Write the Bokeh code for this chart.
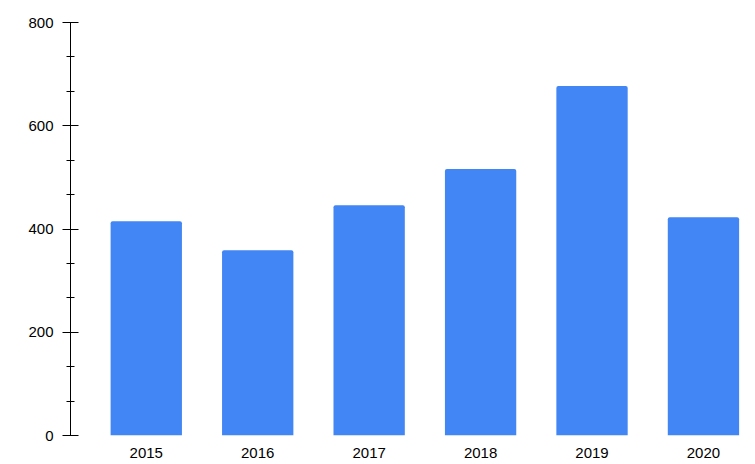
from bokeh.plotting import figure
from bokeh.models import Range1d, SingleIntervalTicker, FixedTicker, ColumnDataSource
from bokeh.embed import file_html
from bokeh.resources import INLINE

years = ["2015", "2016", "2017", "2018", "2019", "2020"]
values = [415, 359, 446, 516, 677, 423]
y_ticks_interval = 200

xpos = list(range(len(years)))
src = ColumnDataSource(dict(x=xpos, top=values))

p = figure(width=755, height=464, output_backend="svg", toolbar_location=None,
           x_range=Range1d(-0.68, 5.467), y_range=Range1d(0, 800),
           min_border_left=70, min_border_right=0, min_border_top=22, min_border_bottom=29)
p.outline_line_color = None
p.grid.visible = False
p.background_fill_color = "white"
p.border_fill_color = "white"

p.vbar(x="x", top="top", width=0.64, source=src, fill_color="#4285F4",
       line_color=None, border_radius=(2, 2, 0, 0))

ya = p.yaxis[0]
ya.ticker = SingleIntervalTicker(interval=y_ticks_interval, num_minor_ticks=3)
ya.axis_line_color = "black"
ya.major_tick_line_color = "black"
ya.minor_tick_line_color = "black"
ya.major_tick_in = 8
ya.major_tick_out = 8
ya.minor_tick_in = 4
ya.minor_tick_out = 4
ya.major_label_standoff = 9
ya.major_label_text_font = "Liberation Sans"
ya.major_label_text_font_size = "15px"
ya.major_label_text_color = "black"

xa = p.xaxis[0]
xa.ticker = FixedTicker(ticks=xpos)
xa.major_label_overrides = {i: y for i, y in zip(xpos, years)}
xa.axis_line_color = None
xa.major_tick_line_color = None
xa.minor_tick_line_color = None
xa.major_tick_in = 0
xa.major_tick_out = 0
xa.major_label_standoff = 12
xa.major_label_text_font = "Liberation Sans"
xa.major_label_text_font_size = "15px"
xa.major_label_text_color = "black"

open("out.html", "w").write(file_html(p, INLINE))
